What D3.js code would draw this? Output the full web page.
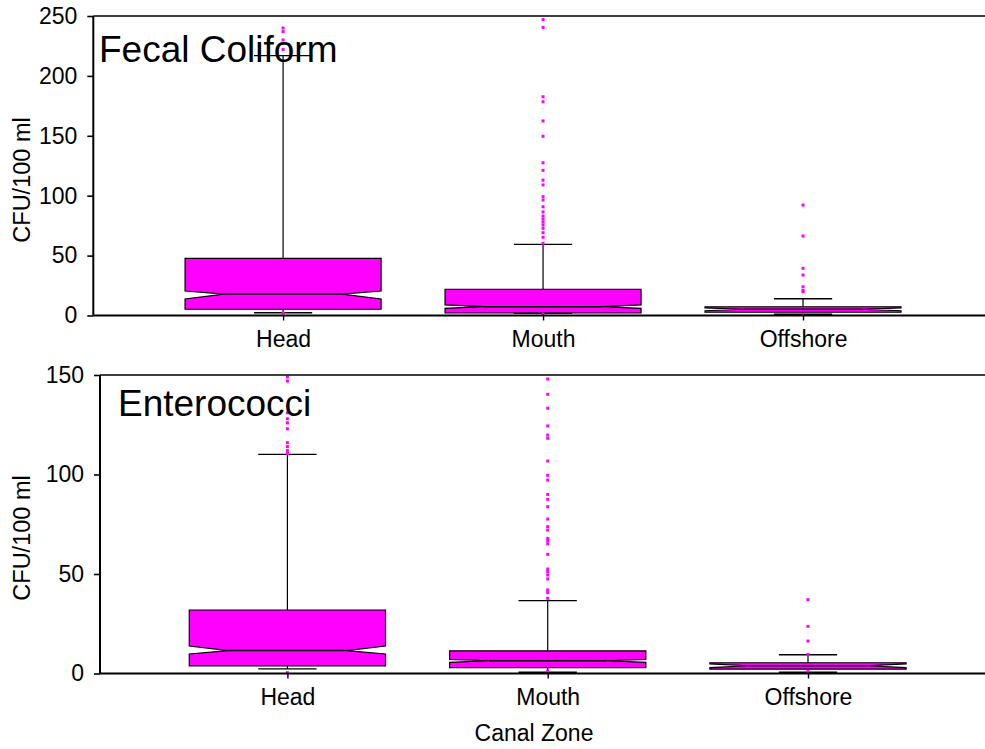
<!DOCTYPE html>
<html>
<head>
<meta charset="utf-8">
<script src="https://cdn.jsdelivr.net/npm/d3@7"></script>
<style>
  html, body { margin: 0; padding: 0; background: #fff; }
  svg { display: block; font-family: "Liberation Sans", Arial, sans-serif; }
</style>
</head>
<body>
<svg id="chart" width="985" height="749"></svg>
<script>
// ---------- data ----------
const zones = ["Head", "Mouth", "Offshore"];

// Fecal Coliform (top panel)
const fcTicks = [0, 50, 100, 150, 200, 250];
const fcQ3 = [47.7, 21.9, 7.3];
const fcNotchHi = [20.4, 8.8, 6.3];
const fcMedian = [17.9, 7.4, 5.2];
const fcNotchLo = [13.8, 6.0, 4.0];
const fcQ1 = [5.2, 2.1, 2.7];
const fcLow = [2.3, 1.8, 1.0];
const fcHigh = [216.9, 59.4, 14.0];
const fcOutHead = [240, 237, 230, 227, 222, 2.0];
const fcOutMouth = [247, 240.5, 182.6, 178.4, 162.4, 149.6, 127.5, 121.2, 113, 109, 99.2, 96.4, 90.8,
                    86.4, 83, 80.5, 78, 75.5, 72.8, 69.1, 65.3, 60.3, 1.2];
const fcOutOffshore = [92.2, 66.4, 39.4, 33.8, 24, 21, 19.9, 1.0];

// Enterococci (bottom panel)
const enTicks = [0, 50, 100, 150];
const enQ3 = [31.9, 11.4, 5.4];
const enNotchHi = [13.8, 7.1, 4.8];
const enMedian = [11.5, 6.4, 3.9];
const enNotchLo = [9.8, 5.6, 3.0];
const enQ1 = [3.8, 2.9, 2.2];
const enLow = [2.3, 0.6, 0.6];
const enHigh = [110.1, 36.6, 9.4];
const enOutHead = [149, 147, 131, 128, 126, 123, 116, 114, 112, 110.5, 0.4];
const enOutMouth = [148, 140.3, 133.3, 124.4, 119.8, 118.2, 106.8, 99.6, 97.2, 90, 87.5, 83.8, 77.6,
                    73.8, 72.1, 67.9, 66.6, 65.2, 59.9, 52.5, 51.2, 49.5, 47.5, 42, 40.6, 37.8, 1.3];
const enOutOffshore = [37.1, 23.7, 16.3, 9.6, 1.1];

// ---------- drawing ----------
const svg = d3.select("#chart");
const MAG = "#ff00ff";

function buildStats(q3, nh, med, nl, q1, lo, hi, outs) {
  return zones.map((z, i) => ({
    zone: z, pos: i + 1, q3: q3[i], nh: nh[i], med: med[i], nl: nl[i], q1: q1[i],
    lo: lo[i], hi: hi[i], outs: outs[i]
  }));
}

function panel(cfg) {
  const g = svg.append("g");
  const x = d3.scaleLinear().domain(cfg.xDomain).range([cfg.left, cfg.right]);
  const y = d3.scaleLinear().domain([0, cfg.yMax]).range([cfg.bottom, cfg.top]);
  const halfW = 0.377, indent = 0.15, capW = 0.112;

  cfg.stats.forEach(d => {
    const cx = x(d.pos);
    g.append("line").attr("x1", cx).attr("x2", cx).attr("y1", y(d.q3)).attr("y2", y(d.hi))
      .attr("stroke", "#000").attr("stroke-width", 1.2);
    g.append("line").attr("x1", cx).attr("x2", cx).attr("y1", y(d.q1)).attr("y2", y(d.lo))
      .attr("stroke", "#000").attr("stroke-width", 1.2);
    const L = x(d.pos - halfW), R = x(d.pos + halfW);
    const Li = x(d.pos - halfW + indent), Ri = x(d.pos + halfW - indent);
    const pts = [
      [L, y(d.q3)], [L, y(d.nh)], [Li, y(d.med)], [L, y(d.nl)], [L, y(d.q1)],
      [R, y(d.q1)], [R, y(d.nl)], [Ri, y(d.med)], [R, y(d.nh)], [R, y(d.q3)]
    ];
    g.append("path").attr("d", d3.line()(pts) + "Z")
      .attr("fill", MAG).attr("stroke", "#000").attr("stroke-width", 1.2);
    g.append("line").attr("x1", Li).attr("x2", Ri).attr("y1", y(d.med)).attr("y2", y(d.med))
      .attr("stroke", "#000").attr("stroke-width", 1.5);
    [d.hi, d.lo].forEach(v => {
      g.append("line").attr("x1", x(d.pos - capW)).attr("x2", x(d.pos + capW))
        .attr("y1", y(v)).attr("y2", y(v)).attr("stroke", "#000").attr("stroke-width", 1.4);
    });
  });

  cfg.stats.forEach(d => {
    g.selectAll(null).data(d.outs).enter().append("rect")
      .attr("x", x(d.pos) - 1.5).attr("y", v => y(v) - 1.5)
      .attr("width", 3).attr("height", 3).attr("fill", MAG);
  });

  g.append("line").attr("x1", cfg.left).attr("x2", cfg.right).attr("y1", y(cfg.yMax)).attr("y2", y(cfg.yMax))
    .attr("stroke", "#000").attr("stroke-width", 1.6);

  const ya = d3.axisLeft(y).tickValues(cfg.ticks).tickSize(6).tickPadding(10).tickFormat(d3.format("d"));
  const yg = g.append("g").attr("transform", `translate(${cfg.left},0)`).call(ya);
  yg.select(".domain").attr("stroke-width", 2).attr("d", `M0,${cfg.bottom}V${cfg.top}`);
  yg.selectAll(".tick line").attr("stroke-width", 1.6);
  yg.selectAll("text").attr("font-size", 23).attr("font-family", "Liberation Sans, Arial, sans-serif")
    .attr("fill", "#000");

  const xa = d3.axisBottom(x).tickValues(cfg.stats.map(d => d.pos)).tickSize(5).tickPadding(10)
    .tickFormat((d, i) => zones[i]);
  const xg = g.append("g").attr("transform", `translate(0,${cfg.bottom})`).call(xa);
  xg.select(".domain").attr("stroke-width", 2.2).attr("d", `M${cfg.left},0H${cfg.right}`);
  xg.selectAll(".tick line").attr("stroke-width", 1.4);
  xg.selectAll("text").attr("font-size", 23).attr("font-family", "Liberation Sans, Arial, sans-serif")
    .attr("fill", "#000");

  g.append("text").attr("transform", `translate(30,${cfg.labelY}) rotate(-90)`)
    .attr("text-anchor", "middle").attr("font-size", 23.5).text("CFU/100 ml");

  g.append("text").attr("x", cfg.titleX).attr("y", cfg.titleY).attr("font-size", 37).text(cfg.title);
}

panel({
  stats: buildStats(fcQ3, fcNotchHi, fcMedian, fcNotchLo, fcQ1, fcLow, fcHigh,
                    [fcOutHead, fcOutMouth, fcOutOffshore]),
  xDomain: [0.27, 3.7], left: 93.3, right: 985, top: 16, bottom: 315.5, yMax: 250, ticks: fcTicks,
  labelY: 180, title: "Fecal Coliform", titleX: 99, titleY: 62
});

panel({
  stats: buildStats(enQ3, enNotchHi, enMedian, enNotchLo, enQ1, enLow, enHigh,
                    [enOutHead, enOutMouth, enOutOffshore]),
  xDomain: [0.28, 3.68], left: 100, right: 985, top: 375, bottom: 673.5, yMax: 150, ticks: enTicks,
  labelY: 538, title: "Enterococci", titleX: 118, titleY: 416
});

svg.append("text").attr("x", 534).attr("y", 741).attr("text-anchor", "middle")
  .attr("font-size", 23).text("Canal Zone");
</script>
</body>
</html>
